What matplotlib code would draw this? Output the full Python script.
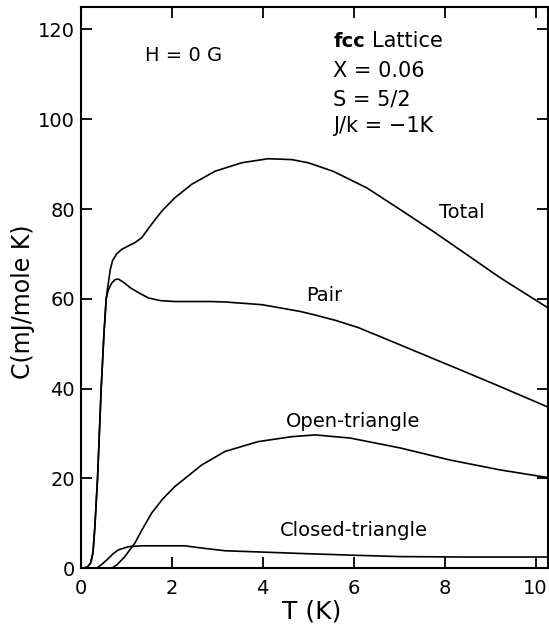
import matplotlib.pyplot as plt

plt.rcParams['font.family'] = ['DejaVu Sans']

# specific heat contributions, C in mJ/(mole K) vs T in K
t_total = [0.05, 0.15, 0.22, 0.27, 0.31, 0.37, 0.45, 0.51, 0.56, 0.60, 0.65, 0.70,
           0.79, 0.90, 1.05, 1.19, 1.34, 1.55, 1.78, 2.07, 2.44, 2.95, 3.54, 4.12,
           4.64, 5.00, 5.55, 6.29, 7.02, 7.75, 8.48, 9.22, 10.27]
c_total = [0, 0.3, 1.2, 3.5, 9, 20, 40, 52, 60, 63, 66.5, 68.5,
           70, 71, 71.8, 72.5, 73.6, 76.5, 79.5, 82.5, 85.5, 88.4, 90.3, 91.2,
           91.0, 90.3, 88.4, 84.7, 79.9, 75.0, 69.9, 64.7, 58.0]

t_pair = [0.05, 0.15, 0.22, 0.27, 0.31, 0.37, 0.45, 0.51, 0.56, 0.60, 0.68, 0.76,
          0.83, 0.95, 1.10, 1.30, 1.49, 1.75, 2.07, 2.84, 3.17, 3.98, 4.82, 5.15,
          5.60, 6.10, 6.58, 7.46, 8.34, 9.21, 10.27]
c_pair = [0, 0.3, 1.2, 3.5, 9, 20, 40, 52, 60, 61.8, 63.5, 64.3,
          64.4, 63.6, 62.4, 61.2, 60.2, 59.6, 59.4, 59.4, 59.3, 58.7, 57.2, 56.4,
          55.2, 53.6, 51.6, 47.9, 44.2, 40.5, 35.9]

t_open = [0.68, 0.80, 0.97, 1.19, 1.35, 1.56, 1.80, 2.07, 2.66, 3.17, 3.90, 4.64,
          5.15, 5.92, 7.02, 8.12, 9.22, 10.27]
c_open = [0, 0.8, 2.6, 5.6, 8.6, 12.3, 15.4, 18.2, 23.0, 26.0, 28.2, 29.3,
          29.7, 29.0, 26.8, 24.1, 21.9, 20.2]

t_closed = [0.35, 0.48, 0.61, 0.72, 0.83, 1.05, 1.34, 2.29, 2.66, 3.17, 4.00, 4.82,
            6.00, 7.02, 8.50, 10.27]
c_closed = [0, 1.0, 2.2, 3.3, 4.1, 4.8, 5.0, 5.0, 4.5, 3.9, 3.6, 3.3,
            2.9, 2.6, 2.5, 2.5]

x_ticks = [0, 2, 4, 6, 8, 10]
y_ticks = [0, 20, 40, 60, 80, 100, 120]

fig = plt.figure(figsize=(5.49, 6.3), dpi=100)
ax = fig.add_axes([0.147, 0.098, 0.851, 0.891])

for t, c in [(t_total, c_total), (t_pair, c_pair), (t_open, c_open), (t_closed, c_closed)]:
    ax.plot(t, c, color='black', linewidth=1.2)

ax.set_xlim(0, 10.27)
ax.set_ylim(0, 125)
ax.set_xticks(x_ticks)
ax.set_yticks(y_ticks)
ax.tick_params(direction='in', length=8, width=1.3, top=True, right=True,
               labelsize=14)
ax.tick_params(axis='x', pad=8)
ax.tick_params(axis='y', pad=4)
for s in ax.spines.values():
    s.set_linewidth(1.5)

# axis titles
fig.text(0.568, 0.030, 'T (K)', fontsize=18, ha='center', va='center')
fig.text(0.042, 0.521, 'C(mJ/mole K)', fontsize=17, rotation=90,
         ha='center', va='center')

# curve labels
ax.text(8.38, 79.2, 'Total', fontsize=14, ha='center', va='center')
ax.text(5.35, 60.7, 'Pair', fontsize=14, ha='center', va='center')
ax.text(5.98, 32.7, 'Open-triangle', fontsize=14, ha='center', va='center')
ax.text(6.0, 8.3, 'Closed-triangle', fontsize=14, ha='center', va='center')

# parameters
ax.text(1.42, 114.2, 'H = 0 G', fontsize=14, ha='left', va='center')
ax.text(5.55, 117.4, 'fcc', fontsize=14, fontweight='bold', ha='left', va='center')
ax.text(6.40, 117.4, 'Lattice', fontsize=15, ha='left', va='center')
ax.text(5.55, 110.7, 'X = 0.06', fontsize=15, ha='left', va='center')
ax.text(5.55, 104.4, 'S = 5/2', fontsize=15, ha='left', va='center')
ax.text(5.55, 98.5, 'J/k = \u22121K', fontsize=15, ha='left', va='center')

fig.savefig('out.png', dpi=100)
